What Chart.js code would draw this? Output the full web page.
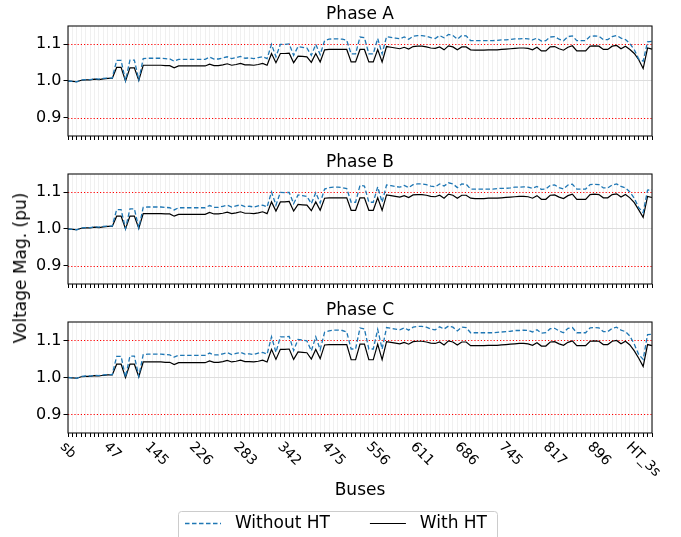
<!DOCTYPE html>
<html>
<head>
<meta charset="utf-8">
<script src="https://cdn.jsdelivr.net/npm/chart.js@4.4.0/dist/chart.umd.min.js"></script>
<style>
    html, body { margin: 0; padding: 0; background: #fff; overflow: hidden; }
    #wrap { position: relative; width: 681px; height: 537px; overflow: hidden; font-family: "DejaVu Sans", sans-serif; }
    #wrap canvas { position: absolute; left: 0; }
    #ylab { position: absolute; left: 20px; top: 268px; white-space: nowrap; font-size: 17px; color: #000;
        transform: translate(-50%, -50%) rotate(-90deg); }
</style>
</head>
<body>
<div id="wrap">
    <canvas id="pA" width="681" height="140" style="top:0"></canvas>
    <canvas id="pB" width="681" height="140" style="top:148px"></canvas>
    <canvas id="pC" width="681" height="246" style="top:296px"></canvas>
    <div id="ylab">Voltage Mag. (pu)</div>
</div>
<script>
// labelled buses, one every 10 buses along the x axis
const tickLabels = ["sb", "47", "145", "226", "283", "342", "475", "556", "611", "686", "745", "817", "896", "HT_3s"];
const yTicks = [0.9, 1.0, 1.1];
const limits = [0.9, 1.1];

const withoutA = [
    1.000, 0.999, 0.998, 1.003, 1.004, 1.004, 1.006, 1.005, 1.007, 1.008,
    1.008, 1.056, 1.056, 1.001, 1.057, 1.057, 1.003, 1.061, 1.062, 1.062,
    1.062, 1.062, 1.061, 1.060, 1.054, 1.059, 1.059, 1.059, 1.059, 1.059,
    1.059, 1.059, 1.065, 1.060, 1.060, 1.063, 1.066, 1.061, 1.064, 1.067,
    1.062, 1.063, 1.061, 1.064, 1.066, 1.061, 1.100, 1.066, 1.100, 1.100,
    1.101, 1.070, 1.094, 1.092, 1.090, 1.070, 1.100, 1.072, 1.110, 1.114,
    1.115, 1.115, 1.114, 1.111, 1.074, 1.074, 1.120, 1.118, 1.074, 1.074,
    1.116, 1.074, 1.121, 1.119, 1.117, 1.115, 1.120, 1.114, 1.122, 1.124,
    1.124, 1.122, 1.118, 1.116, 1.124, 1.118, 1.127, 1.124, 1.114, 1.124,
    1.123, 1.110, 1.110, 1.110, 1.110, 1.110, 1.110, 1.111, 1.112, 1.112,
    1.113, 1.115, 1.115, 1.116, 1.115, 1.112, 1.117, 1.109, 1.110, 1.120,
    1.121, 1.114, 1.110, 1.121, 1.123, 1.110, 1.110, 1.110, 1.122, 1.123,
    1.122, 1.113, 1.113, 1.121, 1.124, 1.117, 1.113, 1.102, 1.085, 1.060,
    1.054, 1.107, 1.108
];
const withA = [
    1.000, 0.999, 0.998, 1.002, 1.003, 1.003, 1.005, 1.004, 1.006, 1.007,
    1.007, 1.037, 1.037, 1.000, 1.036, 1.036, 1.002, 1.043, 1.043, 1.043,
    1.043, 1.043, 1.042, 1.042, 1.036, 1.041, 1.041, 1.041, 1.041, 1.041,
    1.041, 1.041, 1.046, 1.042, 1.042, 1.044, 1.047, 1.043, 1.045, 1.048,
    1.044, 1.044, 1.043, 1.045, 1.048, 1.043, 1.075, 1.050, 1.075, 1.075,
    1.076, 1.050, 1.068, 1.067, 1.066, 1.051, 1.075, 1.052, 1.085, 1.086,
    1.086, 1.086, 1.086, 1.086, 1.052, 1.052, 1.086, 1.086, 1.052, 1.052,
    1.086, 1.052, 1.094, 1.092, 1.090, 1.088, 1.092, 1.087, 1.094, 1.095,
    1.095, 1.093, 1.090, 1.089, 1.093, 1.085, 1.096, 1.093, 1.085, 1.093,
    1.093, 1.085, 1.084, 1.084, 1.084, 1.085, 1.085, 1.085, 1.086, 1.087,
    1.088, 1.089, 1.090, 1.090, 1.089, 1.085, 1.092, 1.082, 1.082, 1.093,
    1.094, 1.088, 1.084, 1.092, 1.096, 1.082, 1.082, 1.082, 1.095, 1.096,
    1.095, 1.086, 1.086, 1.095, 1.097, 1.088, 1.095, 1.086, 1.075, 1.058,
    1.034, 1.090, 1.087
];
const withoutB = [
    1.000, 0.999, 0.998, 1.003, 1.004, 1.004, 1.006, 1.005, 1.007, 1.008,
    1.008, 1.053, 1.053, 1.001, 1.055, 1.055, 1.003, 1.059, 1.060, 1.060,
    1.060, 1.060, 1.059, 1.058, 1.052, 1.058, 1.058, 1.058, 1.058, 1.058,
    1.058, 1.058, 1.064, 1.059, 1.059, 1.062, 1.065, 1.060, 1.063, 1.066,
    1.061, 1.062, 1.060, 1.063, 1.065, 1.060, 1.101, 1.065, 1.100, 1.099,
    1.100, 1.069, 1.093, 1.091, 1.089, 1.069, 1.099, 1.071, 1.109, 1.113,
    1.114, 1.114, 1.113, 1.110, 1.073, 1.073, 1.119, 1.117, 1.073, 1.073,
    1.115, 1.073, 1.120, 1.118, 1.116, 1.114, 1.119, 1.113, 1.121, 1.123,
    1.123, 1.121, 1.117, 1.115, 1.123, 1.117, 1.126, 1.123, 1.113, 1.123,
    1.122, 1.109, 1.109, 1.109, 1.109, 1.109, 1.109, 1.110, 1.111, 1.111,
    1.112, 1.114, 1.114, 1.115, 1.114, 1.111, 1.116, 1.108, 1.109, 1.119,
    1.120, 1.113, 1.109, 1.120, 1.122, 1.109, 1.109, 1.109, 1.121, 1.122,
    1.121, 1.112, 1.112, 1.120, 1.123, 1.116, 1.112, 1.101, 1.084, 1.058,
    1.045, 1.106, 1.107
];
const withB = [
    1.000, 0.999, 0.998, 1.002, 1.003, 1.003, 1.005, 1.004, 1.006, 1.007,
    1.007, 1.035, 1.035, 1.000, 1.035, 1.035, 1.002, 1.042, 1.042, 1.042,
    1.042, 1.042, 1.041, 1.041, 1.035, 1.040, 1.040, 1.040, 1.040, 1.040,
    1.040, 1.040, 1.045, 1.041, 1.041, 1.043, 1.046, 1.042, 1.044, 1.047,
    1.043, 1.043, 1.042, 1.044, 1.047, 1.042, 1.074, 1.049, 1.074, 1.074,
    1.075, 1.049, 1.067, 1.066, 1.065, 1.050, 1.074, 1.051, 1.084, 1.085,
    1.085, 1.085, 1.085, 1.085, 1.051, 1.051, 1.085, 1.085, 1.051, 1.051,
    1.085, 1.051, 1.093, 1.091, 1.089, 1.087, 1.091, 1.086, 1.093, 1.094,
    1.094, 1.092, 1.089, 1.088, 1.092, 1.084, 1.095, 1.092, 1.084, 1.092,
    1.092, 1.084, 1.083, 1.083, 1.083, 1.084, 1.084, 1.084, 1.085, 1.086,
    1.087, 1.088, 1.089, 1.089, 1.088, 1.084, 1.091, 1.081, 1.081, 1.092,
    1.093, 1.087, 1.083, 1.091, 1.095, 1.081, 1.081, 1.081, 1.094, 1.095,
    1.094, 1.085, 1.085, 1.094, 1.096, 1.087, 1.094, 1.085, 1.072, 1.052,
    1.032, 1.089, 1.086
];
const withoutC = [
    1.000, 0.999, 0.998, 1.003, 1.004, 1.004, 1.006, 1.005, 1.007, 1.008,
    1.008, 1.057, 1.057, 1.001, 1.058, 1.058, 1.003, 1.062, 1.063, 1.063,
    1.063, 1.063, 1.062, 1.061, 1.055, 1.060, 1.060, 1.060, 1.060, 1.060,
    1.060, 1.060, 1.066, 1.061, 1.061, 1.064, 1.067, 1.062, 1.065, 1.068,
    1.063, 1.064, 1.062, 1.066, 1.068, 1.063, 1.110, 1.068, 1.110, 1.110,
    1.111, 1.073, 1.103, 1.101, 1.099, 1.072, 1.110, 1.075, 1.122, 1.126,
    1.128, 1.128, 1.127, 1.123, 1.077, 1.077, 1.134, 1.131, 1.077, 1.077,
    1.130, 1.077, 1.135, 1.133, 1.131, 1.129, 1.134, 1.128, 1.136, 1.138,
    1.138, 1.136, 1.131, 1.129, 1.137, 1.131, 1.139, 1.136, 1.126, 1.136,
    1.135, 1.121, 1.121, 1.121, 1.121, 1.121, 1.121, 1.122, 1.123, 1.124,
    1.125, 1.127, 1.127, 1.128, 1.127, 1.123, 1.129, 1.120, 1.121, 1.132,
    1.133, 1.126, 1.121, 1.133, 1.135, 1.121, 1.121, 1.121, 1.134, 1.135,
    1.134, 1.124, 1.124, 1.133, 1.136, 1.128, 1.124, 1.112, 1.090, 1.062,
    1.049, 1.116, 1.117
];
const withC = [
    1.000, 0.999, 0.998, 1.002, 1.003, 1.003, 1.005, 1.004, 1.006, 1.007,
    1.007, 1.036, 1.036, 1.000, 1.036, 1.036, 1.002, 1.042, 1.042, 1.042,
    1.042, 1.042, 1.041, 1.041, 1.035, 1.040, 1.040, 1.040, 1.040, 1.040,
    1.040, 1.040, 1.045, 1.041, 1.041, 1.043, 1.046, 1.042, 1.044, 1.047,
    1.043, 1.043, 1.042, 1.044, 1.047, 1.042, 1.076, 1.049, 1.076, 1.076,
    1.077, 1.049, 1.069, 1.068, 1.067, 1.050, 1.076, 1.051, 1.088, 1.089,
    1.089, 1.089, 1.089, 1.089, 1.048, 1.048, 1.090, 1.090, 1.048, 1.048,
    1.090, 1.048, 1.097, 1.095, 1.093, 1.091, 1.095, 1.090, 1.097, 1.098,
    1.098, 1.096, 1.093, 1.092, 1.096, 1.088, 1.099, 1.096, 1.088, 1.096,
    1.096, 1.086, 1.086, 1.086, 1.086, 1.087, 1.087, 1.087, 1.088, 1.089,
    1.090, 1.091, 1.092, 1.092, 1.091, 1.087, 1.094, 1.085, 1.085, 1.096,
    1.097, 1.091, 1.087, 1.095, 1.099, 1.086, 1.086, 1.086, 1.098, 1.099,
    1.098, 1.089, 1.089, 1.098, 1.100, 1.091, 1.098, 1.088, 1.072, 1.052,
    1.030, 1.089, 1.086
];

const FONT = "DejaVu Sans";
Chart.defaults.font.family = FONT;
Chart.defaults.color = "#000";

// category labels: named bus every 10th position, blank in between
const busLabels = withA.map((_, i) => (i % 10 === 0 && tickLabels[i / 10]) || "");

// red dotted limit lines + black frame round the plot area
const framePlugin = {
    id: "frame",
    beforeDatasetsDraw(chart) {
        const { ctx, chartArea: a, scales: { y } } = chart;
        ctx.save();
        ctx.strokeStyle = "#ff0000";
        ctx.lineWidth = 1;
        ctx.setLineDash([1.2, 2]);
        limits.forEach(v => {
            const py = Math.round(y.getPixelForValue(v)) + 0.5;
            ctx.beginPath();
            ctx.moveTo(a.left, py);
            ctx.lineTo(a.right, py);
            ctx.stroke();
        });
        ctx.restore();
    },
    afterDatasetsDraw(chart) {
        const { ctx, chartArea: a } = chart;
        ctx.save();
        ctx.strokeStyle = "#111";
        ctx.lineWidth = 1.1;
        ctx.strokeRect(a.left, a.top, a.right - a.left, a.bottom - a.top);
        ctx.restore();
    }
};

// rotated bus names under the bottom panel, centred on their tick like matplotlib
const xLabelPlugin = {
    id: "xLabels",
    afterDraw(chart) {
        const { ctx, chartArea: a, scales: { x } } = chart;
        const fs = 14, h = fs * 1.15;
        ctx.save();
        ctx.font = fs + "px \"" + FONT + "\"";
        ctx.fillStyle = "#000";
        ctx.textAlign = "left";
        ctx.textBaseline = "middle";
        busLabels.forEach((t, i) => {
            if (!t) return;
            const px = x.getPixelForValue(i);
            const w = ctx.measureText(t).width;
            ctx.save();
            ctx.translate(px - w * 0.3536, a.bottom + 6 + h * 0.3536);
            ctx.rotate(Math.PI / 4);
            ctx.fillText(t, 0, 0);
            ctx.restore();
        });
        // legend frame
        const hb = chart.legend && chart.legend.legendHitBoxes;
        if (hb && hb.length) {
            const last = hb[hb.length - 1];
            const x0 = hb[0].left - 7, x1 = last.left + last.width + 10;
            const y0 = hb[0].top - 4, y1 = chart.height + 6;
            ctx.strokeStyle = "#cccccc";
            ctx.lineWidth = 1;
            ctx.beginPath();
            ctx.roundRect(x0 + 0.5, y0 + 0.5, x1 - x0, y1 - y0, 3);
            ctx.stroke();
        }
        ctx.restore();
    }
};

function makeData(without, withHT) {
    return {
        labels: busLabels,
        datasets: [
            { label: "Without HT", data: without, borderColor: "#1f77b4", backgroundColor: "#1f77b4",
              borderWidth: 1.3, borderDash: [4.5, 2.5], pointRadius: 0, tension: 0 },
            { label: "With HT", data: withHT, borderColor: "#000", backgroundColor: "#000",
              borderWidth: 1.2, pointRadius: 0, tension: 0 }
        ]
    };
}

// legend items drawn as short line samples with the dataset's own dash
function legendLabels(chart) {
    const items = Chart.defaults.plugins.legend.labels.generateLabels(chart);
    return items.map((it, i) => {
        const ds = chart.data.datasets[i];
        it.text = " " + it.text;
        it.lineDash = ds.borderDash || [];
        it.lineWidth = ds.borderWidth;
        it.strokeStyle = ds.borderColor;
        return it;
    });
}

function makeOptions(title, bottom) {
    return {
        responsive: false,
        animation: false,
        events: [],
        layout: { padding: { left: 20, right: 29, top: 0, bottom: 0 } },
        plugins: {
            title: { display: true, text: title, fullSize: false, color: "#000",
                     font: { size: 17, weight: "normal" }, padding: { top: 4, bottom: 1.6 } },
            legend: bottom ? {
                display: true, position: "bottom",
                labels: { usePointStyle: true, pointStyle: "line", pointStyleWidth: 36,
                          color: "#000", font: { size: 17 }, padding: 40, generateLabels: legendLabels }
            } : { display: false },
            tooltip: { enabled: false }
        },
        scales: {
            x: {
                grid: { color: "rgba(0,0,0,0.08)", lineWidth: 0.8, tickColor: "#000", tickWidth: 1, tickLength: 4 },
                border: { display: false },
                ticks: { display: false, autoSkip: false },
                title: bottom ? { display: true, text: "Buses", color: "#000", font: { size: 17 },
                                  padding: { top: 0, bottom: -26 } } : { display: false },
                afterFit: s => { s.height = bottom ? 42 : 4; }
            },
            y: {
                min: 0.85, max: 1.15,
                afterBuildTicks: s => { s.ticks = yTicks.map(v => ({ value: v })); },
                grid: {
                    color: c => (c.tick && Math.abs(c.tick.value - 1) < 1e-9 ? "#dddddd" : "rgba(0,0,0,0)"),
                    tickColor: "#000", tickWidth: 1, tickLength: 4.5
                },
                border: { display: false },
                ticks: { color: "#000", font: { size: 16 }, padding: 2, callback: v => Number(v).toFixed(1) },
                afterFit: s => { s.width = 48; s.paddingTop = 0; s.paddingBottom = 0; }
            }
        }
    };
}

new Chart(document.getElementById("pA"), {
    type: "line", data: makeData(withoutA, withA), options: makeOptions("Phase A", false), plugins: [framePlugin]
});
new Chart(document.getElementById("pB"), {
    type: "line", data: makeData(withoutB, withB), options: makeOptions("Phase B", false), plugins: [framePlugin]
});
new Chart(document.getElementById("pC"), {
    type: "line", data: makeData(withoutC, withC), options: makeOptions("Phase C", true), plugins: [framePlugin, xLabelPlugin]
});
</script>
</body>
</html>
